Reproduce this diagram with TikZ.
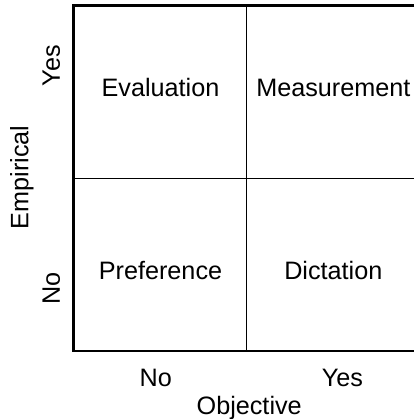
\documentclass[tikz,border=0pt]{standalone}
\usepackage{fontspec}
\setmainfont{Liberation Sans}
\begin{document}
\begin{tikzpicture}[
  x=0.5pt, y=0.5pt,
  font=\fontsize{12.6}{15}\selectfont,
  every node/.style={inner sep=0pt, outer sep=0pt},
  cell/.style={anchor=base, align=center},
  tick/.style={anchor=base},
  axisname/.style={anchor=base},
  frame/.style={line width=1.2pt},
  divider/.style={line width=0.65pt}
]
\useasboundingbox (0,0) rectangle (414,419);

% Corners of the square; its right side lies past the page edge.
\coordinate (TL) at (73.7,413.7);
\coordinate (BL) at (73.7,68);
\coordinate (TR) at (414,413.7);
\coordinate (BR) at (414,68);
\coordinate (MT) at (246.7,413.7);
\coordinate (MB) at (246.7,68);
\coordinate (ML) at (73.7,240.7);
\coordinate (MR) at (414,240.7);

\draw[divider] (MT) -- (MB);
\draw[divider] (ML) -- (MR);
\draw[frame] (TR) -- (TL) -- (BL) -- (BR);

% Quadrants
\node[cell] (eval) at (160.5,322.3) {Evaluation};
\node[cell] (meas) at (333.3,322.3) {Measurement};
\node[cell] (pref) at (160.5,139.7) {Preference};
\node[cell] (dict) at (333.3,139.7) {Dictation};

% Objective axis
\node[tick] (objno)  at (155.8,32.3) {No};
\node[tick] (objyes) at (342.5,32.3) {Yes};
\node[axisname] (obj) at (249.2,4) {Objective};

% Empirical axis
\node[tick, rotate=90] (empyes) at (60,353.2) {Yes};
\node[tick, rotate=90] (empno)  at (60,130.7) {No};
\node[axisname, rotate=90] (emp) at (28.3,241.8) {Empirical};

\end{tikzpicture}
\end{document}
